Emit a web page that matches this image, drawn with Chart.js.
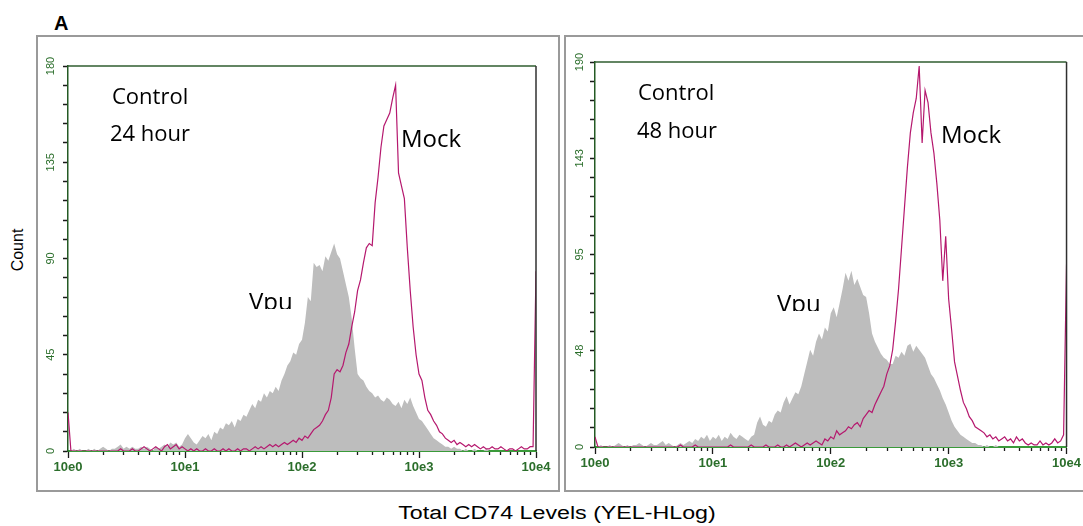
<!DOCTYPE html>
<html>
<head>
<meta charset="utf-8">
<title>Total CD74 Levels</title>
<script src="https://cdn.jsdelivr.net/npm/chart.js@4.4.0/dist/chart.umd.min.js"></script>
<style>
  body { margin: 0; background: #fff; }
  #fig { position: relative; width: 1083px; height: 526px; overflow: hidden; background: #fff;
         font-family: 'Liberation Sans', Arial, sans-serif; }
  .frame { position: absolute; box-sizing: border-box; border: 2px solid #9a9a9a; }
  .txt { position: absolute; white-space: nowrap; line-height: 1; color: #000; }
  .ann { font-family: 'Open Sans', sans-serif; }
  .clip { position: absolute; overflow: hidden; }
  canvas { position: absolute; }
</style>
</head>
<body>
<div id="fig">
  <div class="frame" style="left:36px;top:35px;width:524px;height:457px"></div>
  <div class="frame" style="left:564px;top:35px;width:530px;height:457px"></div>

  <canvas id="c24" width="524" height="457" style="left:36px;top:35px"></canvas>
  <canvas id="c48" width="519" height="457" style="left:564px;top:35px"></canvas>

  <div class="txt" style="left:54px;top:13px;font-size:20px;font-weight:bold">A</div>
  <div class="txt" style="left:18px;top:250px;font-size:16px;transform:translate(-50%,-50%) rotate(-90deg)">Count</div>
  <div class="txt" style="left:557px;top:504px;font-size:18px;transform:translateX(-50%) scaleX(1.29)">Total CD74 Levels (YEL-HLog)</div>

  <!-- 24 hour panel labels -->
  <div class="txt ann" style="left:112px;top:84px;font-size:22px">Control</div>
  <div class="txt ann" style="left:110px;top:121px;font-size:22px">24 hour</div>
  <div class="txt ann" style="left:401px;top:126px;font-size:24px">Mock</div>
  <div class="clip" style="left:249px;top:289px;width:60px;height:20px">
    <div class="txt ann" style="left:0;top:0;font-size:24px">Vpu</div>
  </div>

  <!-- 48 hour panel labels -->
  <div class="txt ann" style="left:638px;top:80px;font-size:22px">Control</div>
  <div class="txt ann" style="left:637px;top:118px;font-size:22px">48 hour</div>
  <div class="txt ann" style="left:941px;top:122px;font-size:24px">Mock</div>
  <div class="clip" style="left:777px;top:291px;width:60px;height:20px">
    <div class="txt ann" style="left:0;top:0;font-size:24px">Vpu</div>
  </div>
</div>

<script>
// Histogram channels: 40 log-spaced bins per decade, from 10e0 to 10e4 (161 channels)
const BINS_PER_DECADE = 40;

// X axis (log) major ticks and their labels
const xTickValues = [1, 10, 100, 1000, 10000];
const xTickLabels = ['10e0', '10e1', '10e2', '10e3', '10e4'];

// Y axis major ticks per panel
const yTickValues24 = [0, 45, 90, 135, 180];
const yTickLabels24 = ['0', '45', '90', '135', '180'];
const yTickValues48 = [0, 47.5, 95, 142.5, 190];
const yTickLabels48 = ['0', '48', '95', '143', '190'];

// Control, 24 hour - counts per channel
const vpu24 = [
  0,0,1,0,1,0,0,1,0,1,0,
  1,2,1,0,1,1,2,3,1,2,
  1,2,1,1,2,1,2,1,0,2,
  1,2,3,2,4,3,4,2,3,6,
  8,6,4,3,5,7,6,8,5,9,
  8,11,10,13,12,14,11,15,14,17,
  16,19,22,20,24,23,27,25,28,27,
  30,28,33,36,40,42,46,45,50,52,
  60,72,70,88,86,87,84,91,89,93,
  97,92,90,84,78,72,62,48,36,34,
  33,30,28,27,25,26,24,23,25,24,
  22,21,23,20,24,22,25,21,18,15,
  14,12,10,8,6,5,4,3,2,2,
  1,2,1,1,0,1,0,0,1,0,
  0,0,1,0,0,0,0,0,0,0,
  0,0,0,0,0,0,0,0,0,0
];
const mock24 = [
  18,0,0,0,0,0,0,0,0,0,0,
  0,0,0,0,0,0,0,1,0,0,
  0,1,0,0,1,2,1,0,1,2,
  1,0,2,3,1,2,3,1,2,1,
  0,1,0,1,0,0,1,0,0,1,
  0,0,1,0,1,0,0,1,0,1,
  1,0,1,2,1,2,1,2,3,2,
  3,2,3,4,3,4,5,4,6,5,
  7,6,8,10,11,12,14,17,19,25,
  36,38,37,40,46,50,58,65,75,80,
  88,95,97,96,116,128,142,152,155,158,
  165,171,130,124,118,95,75,58,45,36,
  33,25,19,17,14,12,9,8,6,5,
  4,5,3,4,3,2,3,2,3,2,
  1,2,1,1,2,1,1,2,1,0,
  1,1,0,1,2,1,1,2,2,84
];

// Control, 48 hour - counts per channel
const vpu48 = [
  0,0,1,0,0,1,0,1,2,1,0,
  1,0,1,1,2,1,0,1,2,1,
  1,2,3,1,2,1,0,1,2,1,
  2,3,2,4,3,5,4,6,3,5,
  4,6,3,5,4,7,5,4,6,5,
  4,3,5,6,12,15,11,10,13,12,
  16,18,17,22,25,21,24,27,26,30,
  36,42,48,45,52,56,53,59,57,66,
  69,64,71,78,86,82,87,80,83,79,
  75,74,66,56,52,49,46,44,43,41,
  41,45,44,47,45,50,51,47,50,48,
  46,44,40,36,34,31,28,24,21,17,
  13,10,8,6,5,4,3,2,2,1,
  1,0,1,0,0,1,0,0,0,0,
  0,0,0,0,0,0,0,0,0,0,
  0,0,0,0,0,0,0,0,0,0
];
const mock48 = [
  5,0,0,0,0,0,0,0,0,0,0,
  0,0,0,0,0,0,0,0,0,0,
  0,0,0,0,0,0,0,0,1,0,
  0,0,0,1,0,0,0,0,0,0,
  0,0,0,0,0,1,0,0,0,0,
  0,0,1,0,0,0,0,1,0,0,
  0,1,0,0,1,0,1,2,1,0,
  1,2,1,2,3,2,1,4,3,5,
  4,8,6,7,8,10,9,11,12,10,
  14,16,18,17,21,24,27,30,36,40,
  48,62,78,98,118,138,155,165,172,188,
  150,176,170,155,145,130,112,82,104,73,
  58,42,35,28,22,19,15,13,10,9,
  8,7,5,6,4,5,3,4,5,3,
  4,2,5,3,4,2,1,2,1,1,
  3,1,2,1,2,4,2,3,6,90
];

const MOCK_COLOR = '#b5186e';
const VPU_COLOR = '#bdbdbd';
const TICK_GREEN = '#2b6e2b';

// Top and right edges of the plotting box
const plotFrame = {
  id: 'plotFrame',
  afterDatasetsDraw(chart) {
    const { ctx, chartArea: a } = chart;
    ctx.save();
    ctx.lineWidth = 1.5;
    ctx.strokeStyle = '#2f5d2f';
    ctx.beginPath(); ctx.moveTo(a.left, a.top); ctx.lineTo(a.right, a.top); ctx.stroke();
    ctx.strokeStyle = '#303030';
    ctx.beginPath(); ctx.moveTo(a.right, a.top); ctx.lineTo(a.right, a.bottom); ctx.stroke();
    ctx.restore();
  }
};

function toPoints(counts) {
  return counts.map((c, i) => ({ x: Math.pow(10, i / BINS_PER_DECADE), y: c }));
}

function minorLogTicks() {
  const out = [];
  for (let d = 0; d < 4; d++) {
    for (let m = 2; m <= 9; m++) out.push({ value: m * Math.pow(10, d) });
  }
  return out;
}

function yTicks(values) {
  // five subdivisions between labelled ticks
  const out = [];
  for (let k = 0; k < values.length - 1; k++) {
    const step = (values[k + 1] - values[k]) / 5;
    for (let s = 0; s < 5; s++) out.push({ value: values[k] + s * step });
  }
  out.push({ value: values[values.length - 1] });
  return out;
}

function histChart(id, p) {
  return new Chart(document.getElementById(id), {
    type: 'line',
    data: {
      datasets: [
        { label: 'Mock', data: toPoints(p.mock), borderColor: MOCK_COLOR, borderWidth: 1.2,
          pointRadius: 0, fill: false, tension: 0 },
        { label: 'Vpu', data: toPoints(p.vpu), borderColor: 'rgba(0,0,0,0)', borderWidth: 0,
          backgroundColor: VPU_COLOR, pointRadius: 0, fill: 'origin', tension: 0 }
      ]
    },
    options: {
      responsive: false,
      animation: false,
      devicePixelRatio: 1,
      layout: { autoPadding: false, padding: { left: 0, top: p.padTop, right: p.padRight, bottom: 0 } },
      plugins: { legend: { display: false }, tooltip: { enabled: false } },
      scales: {
        x: {
          type: 'logarithmic', position: 'bottom', weight: 1, min: 1, max: 10000,
          afterBuildTicks: s => { s.ticks = xTickValues.map(v => ({ value: v })); },
          afterFit: s => { s.height = p.xAxisHeight; },
          grid: { display: true, drawOnChartArea: false, drawTicks: true, tickLength: 7,
                  tickColor: '#1a1a1a', tickWidth: 1.3 },
          border: { display: true, color: '#3a9a3a', width: 2 },
          ticks: { autoSkip: false, minRotation: 0, maxRotation: 0, padding: 2, color: TICK_GREEN,
                   font: { family: 'Liberation Sans', size: 13, weight: 'bold' },
                   callback: (v, i) => xTickLabels[i] }
        },
        xMinor: {
          type: 'logarithmic', position: 'bottom', weight: 0, min: 1, max: 10000,
          afterBuildTicks: s => { s.ticks = minorLogTicks(); },
          afterFit: s => { s.height = 0; },
          grid: { display: true, drawOnChartArea: false, drawTicks: true, tickLength: 4,
                  tickColor: '#1a1a1a', tickWidth: 1.3 },
          border: { display: false },
          ticks: { display: false, autoSkip: false }
        },
        y: {
          type: 'linear', position: 'left', min: 0, max: p.yMax,
          afterBuildTicks: s => { s.ticks = yTicks(p.yValues); },
          afterFit: s => { s.width = p.yAxisWidth; },
          grid: { display: true, drawOnChartArea: false, drawTicks: true, tickLength: 5,
                  tickColor: '#1a1a1a', tickWidth: 1.5 },
          border: { display: true, color: '#245a24', width: 1.5 },
          ticks: { autoSkip: false, minRotation: 90, maxRotation: 90, crossAlign: 'center',
                   padding: p.yPad, color: TICK_GREEN,
                   font: { family: 'Liberation Sans', size: 11 },
                   callback: (v, i) => (i % 5 === 0 ? p.yLabels[i / 5] : '') }
        }
      }
    },
    plugins: [plotFrame]
  });
}

histChart('c24', {
  vpu: vpu24, mock: mock24, yMax: 180, yValues: yTickValues24, yLabels: yTickLabels24,
  padTop: 31, padRight: 24, xAxisHeight: 41, yAxisWidth: 32, yPad: 3
});
histChart('c48', {
  vpu: vpu48, mock: mock48, yMax: 190, yValues: yTickValues48, yLabels: yTickLabels48,
  padTop: 27, padRight: 15, xAxisHeight: 45, yAxisWidth: 31, yPad: 1
});
</script>
</body>
</html>
